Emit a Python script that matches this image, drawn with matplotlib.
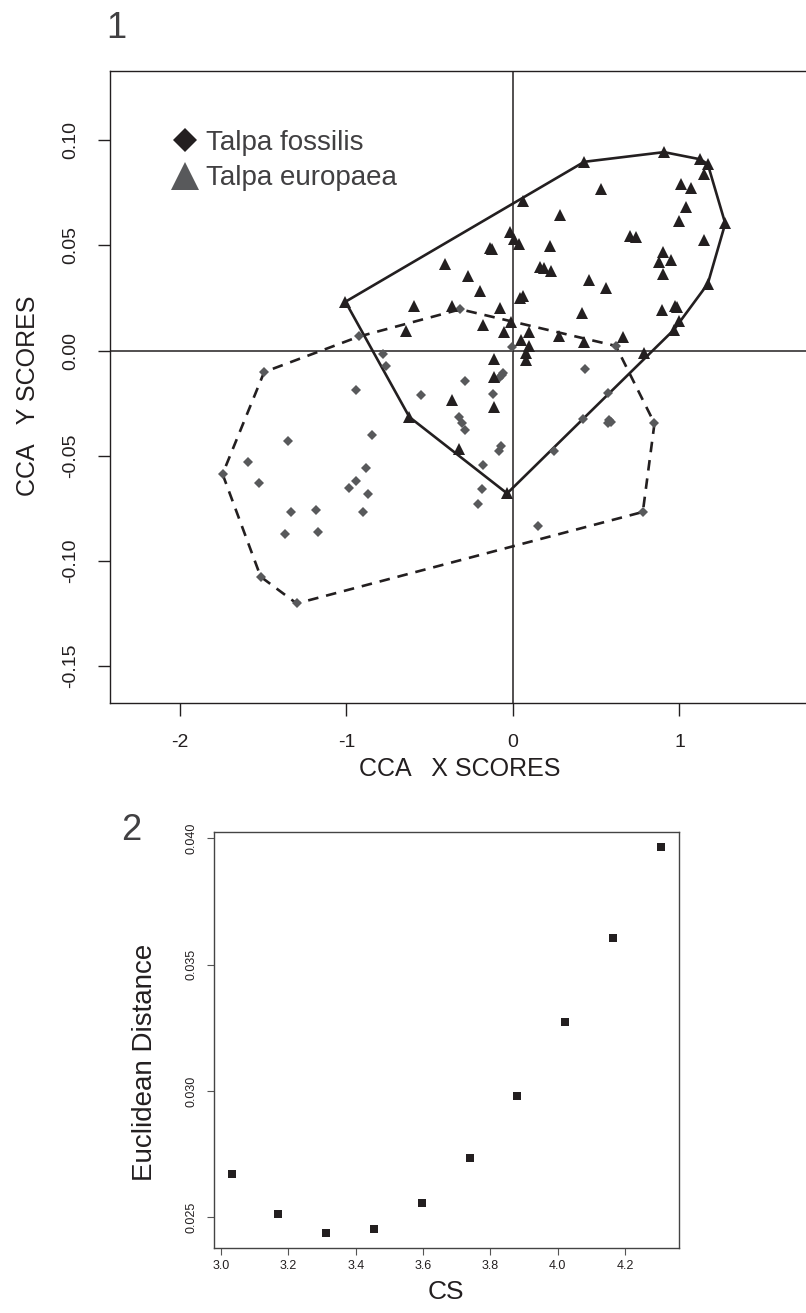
import numpy as np
import matplotlib
matplotlib.use('Agg')
import matplotlib.pyplot as plt
from matplotlib import font_manager
from matplotlib.lines import Line2D

# fonts: narrow sans for the Myriad-ish labels if we have it
names = {f.name for f in font_manager.fontManager.ttflist}
narrow = 'Liberation Sans Narrow' if 'Liberation Sans Narrow' in names else 'Liberation Sans'
plain = 'Liberation Sans'

# ---- panel 1 data: CCA scores ----
# Talpa europaea (triangles)
eur_x = [-1.006, 0.428, 0.907, 1.125, 1.170, 1.148, 1.275, 1.170, 0.995, 0.967,
         0.787, -0.035, -0.622, -0.323, -0.368, -0.113, -0.113, -0.116, 0.079, 0.080,
         0.048, 0.096, 0.062, 0.530, 0.282, 1.009, 1.072, 1.037, 0.999, 1.148,
         0.705, 0.739, 0.900, 0.880, 0.950, 0.902, -0.020, 0.008, 0.037, -0.136,
         -0.128, 0.220, -0.411, -0.271, -0.196, 0.164, 0.186, 0.226, 0.459, 0.558,
         0.043, 0.060, -0.597, -0.365, -0.078, 0.413, 0.895, 0.973, 0.987, -0.180,
         -0.011, -0.640, -0.053, 0.098, 0.274, 0.428, 0.658]
eur_y = [0.0232, 0.0897, 0.0943, 0.0909, 0.0886, 0.0837, 0.0604, 0.0317, 0.0141, 0.0099,
         -0.0013, -0.0679, -0.0316, -0.0467, -0.0237, -0.0042, -0.0124, -0.0267, -0.0010, -0.0045,
         0.0048, 0.0023, 0.0711, 0.0766, 0.0645, 0.0790, 0.0771, 0.0682, 0.0614, 0.0524,
         0.0545, 0.0538, 0.0468, 0.0423, 0.0430, 0.0363, 0.0565, 0.0528, 0.0505, 0.0489,
         0.0481, 0.0498, 0.0410, 0.0354, 0.0284, 0.0398, 0.0390, 0.0379, 0.0335, 0.0296,
         0.0248, 0.0259, 0.0213, 0.0210, 0.0203, 0.0180, 0.0192, 0.0212, 0.0205, 0.0121,
         0.0135, 0.0095, 0.0087, 0.0089, 0.0070, 0.0040, 0.0065]

# Talpa fossilis (diamonds)
fos_x = [-0.316, -0.923, -1.494, -0.943, -0.845, -1.350, -1.590, -1.744, -1.523, -0.885,
         -0.945, -0.983, -0.869, -1.333, -1.185, -0.903, -1.369, -1.171, -1.515, -1.299,
         0.780, 0.850, 0.618, -0.779, -0.763, -0.008, -0.288, -0.068, -0.058, -0.082,
         -0.554, -0.118, -0.322, -0.308, -0.288, -0.074, -0.082, -0.178, -0.188, -0.208,
         0.152, 0.432, 0.573, 0.419, 0.579, 0.587, 0.573, 0.244]
fos_y = [0.0196, 0.0067, -0.0102, -0.0188, -0.0402, -0.0430, -0.0531, -0.0587, -0.0630, -0.0557,
         -0.0619, -0.0655, -0.0682, -0.0769, -0.0758, -0.0766, -0.0872, -0.0861, -0.1075, -0.1202,
         -0.0767, -0.0346, 0.0022, -0.0018, -0.0072, 0.0018, -0.0143, -0.0116, -0.0108, -0.0132,
         -0.0211, -0.0207, -0.0318, -0.0343, -0.0378, -0.0454, -0.0476, -0.0544, -0.0660, -0.0731,
         -0.0833, -0.0089, -0.0200, -0.0327, -0.0330, -0.0338, -0.0346, -0.0476]

x_ticks1 = [-2, -1, 0, 1]
y_ticks1 = [-0.15, -0.10, -0.05, 0.00, 0.05, 0.10]

# ---- panel 2 data ----
cs = [3.031, 3.169, 3.312, 3.455, 3.598, 3.739, 3.879, 4.023, 4.165, 4.308]
eucl = [0.02670, 0.02512, 0.02437, 0.02453, 0.02555, 0.02734, 0.02979, 0.03272, 0.03604, 0.03964]
x_ticks2 = [3.0, 3.2, 3.4, 3.6, 3.8, 4.0, 4.2]
y_ticks2 = [0.025, 0.030, 0.035, 0.040]

black = '#231f20'
grey = '#58595b'
textgrey = '#414042'


def hull(xs, ys):
    # monotone chain convex hull, like R chull
    pts = sorted(set(zip(xs, ys)))

    def cross(o, a, b):
        return (a[0] - o[0]) * (b[1] - o[1]) - (a[1] - o[1]) * (b[0] - o[0])

    lower, upper = [], []
    for p in pts:
        while len(lower) >= 2 and cross(lower[-2], lower[-1], p) <= 0:
            lower.pop()
        lower.append(p)
    for p in reversed(pts):
        while len(upper) >= 2 and cross(upper[-2], upper[-1], p) <= 0:
            upper.pop()
        upper.append(p)
    h = lower[:-1] + upper[:-1]
    h.append(h[0])
    return np.array(h)


fig = plt.figure(figsize=(8.06, 13.13), dpi=100)

# ---------------- panel 1 ----------------
W, H = 806, 1313
ax = fig.add_axes([110 / W, 1 - 703 / H, 700 / W, (703 - 70.7) / H])
ax.set_xlim(-2.420, 1.784)
ax.set_ylim(-0.1675, 0.133)

ax.axhline(0, color=black, lw=1.1, zorder=1)
ax.axvline(0, color=black, lw=1.1, zorder=1)

he = hull(eur_x, eur_y)
hf = hull(fos_x, fos_y)
ax.plot(he[:, 0], he[:, 1], color=black, lw=1.9, zorder=2)
ax.plot(hf[:, 0], hf[:, 1], color=black, lw=1.9, dashes=(4, 3), zorder=2)

ax.plot(fos_x, fos_y, 'D', color=grey, ms=5, mew=0, zorder=3)
ax.plot(eur_x, eur_y, '^', color=black, ms=9, mew=0, zorder=4)

ax.set_xticks(x_ticks1)
ax.set_xticklabels(['-2', '-1', '0', '1'])
ax.set_yticks(y_ticks1)
ax.set_yticklabels(['-0.15', '-0.10', '-0.05', '0.00', '0.05', '0.10'])
ax.tick_params(direction='out', length=9, width=1, color=black, labelsize=14,
               labelcolor=black)
ax.tick_params(axis='x', pad=13)
ax.tick_params(axis='y', pad=13, labelrotation=90)
for lbl in ax.get_xticklabels() + ax.get_yticklabels():
    lbl.set_fontfamily(narrow)
for lbl in ax.get_yticklabels():
    lbl.set_va('center')
for sp in ax.spines.values():
    sp.set_linewidth(1.0)
    sp.set_color(black)

handles = [Line2D([], [], ls='none', marker='D', ms=12, color=black, mew=0),
           Line2D([], [], ls='none', marker='^', ms=20, color=grey, mew=0)]
ax.legend(handles, ['Talpa fossilis', 'Talpa europaea'], loc='upper left',
          bbox_to_anchor=(0.090, 0.907), frameon=False, handlelength=0.85,
          handletextpad=0.35, labelspacing=0.35, borderpad=0, borderaxespad=0,
          prop={'family': narrow, 'size': 20}, labelcolor=textgrey)

fig.text(459.5 / W, 1 - 769 / H, 'CCA   X SCORES', ha='center', va='center',
         fontsize=18, family=narrow, color=black)
fig.text(28 / W, 1 - 396 / H, 'CCA   Y SCORES', ha='center', va='center',
         rotation=90, fontsize=18, family=narrow, color=black)
fig.text(116 / W, 1 - 29 / H, '1', ha='center', va='center', fontsize=26,
         family=plain, color=textgrey)

# ---------------- panel 2 ----------------
ax2 = fig.add_axes([213.7 / W, 1 - 1247.7 / H, (678.6 - 213.7) / W, (1247.7 - 832.3) / H])
ax2.set_xlim(2.978, 4.359)
ax2.set_ylim(0.0238, 0.04024)
ax2.plot(cs, eucl, 's', color=black, ms=5.2, mew=0)

ax2.set_xticks(x_ticks2)
ax2.set_xticklabels([f'{v:.1f}' for v in x_ticks2])
ax2.set_yticks(y_ticks2)
ax2.set_yticklabels([f'{v:.3f}' for v in y_ticks2])
ax2.tick_params(direction='out', length=5, width=0.8, color='#555555',
                labelsize=9, labelcolor=black)
ax2.tick_params(axis='x', pad=4)
ax2.tick_params(axis='y', pad=7, labelrotation=90)
for lbl in ax2.get_xticklabels() + ax2.get_yticklabels():
    lbl.set_fontfamily(plain)
for lbl in ax2.get_yticklabels():
    lbl.set_va('center')
for sp in ax2.spines.values():
    sp.set_linewidth(1.0)
    sp.set_color('#444444')

fig.text(446 / W, 1 - 1292 / H, 'CS', ha='center', va='center', fontsize=19,
         family=narrow, color=black)
fig.text(145 / W, 1 - 1062 / H, 'Euclidean Distance', ha='center', va='center',
         rotation=90, fontsize=20, family=plain, color=black)
fig.text(131 / W, 1 - 830 / H, '2', ha='center', va='center', fontsize=26,
         family=plain, color=textgrey)

fig.savefig('out.png', dpi=100)
